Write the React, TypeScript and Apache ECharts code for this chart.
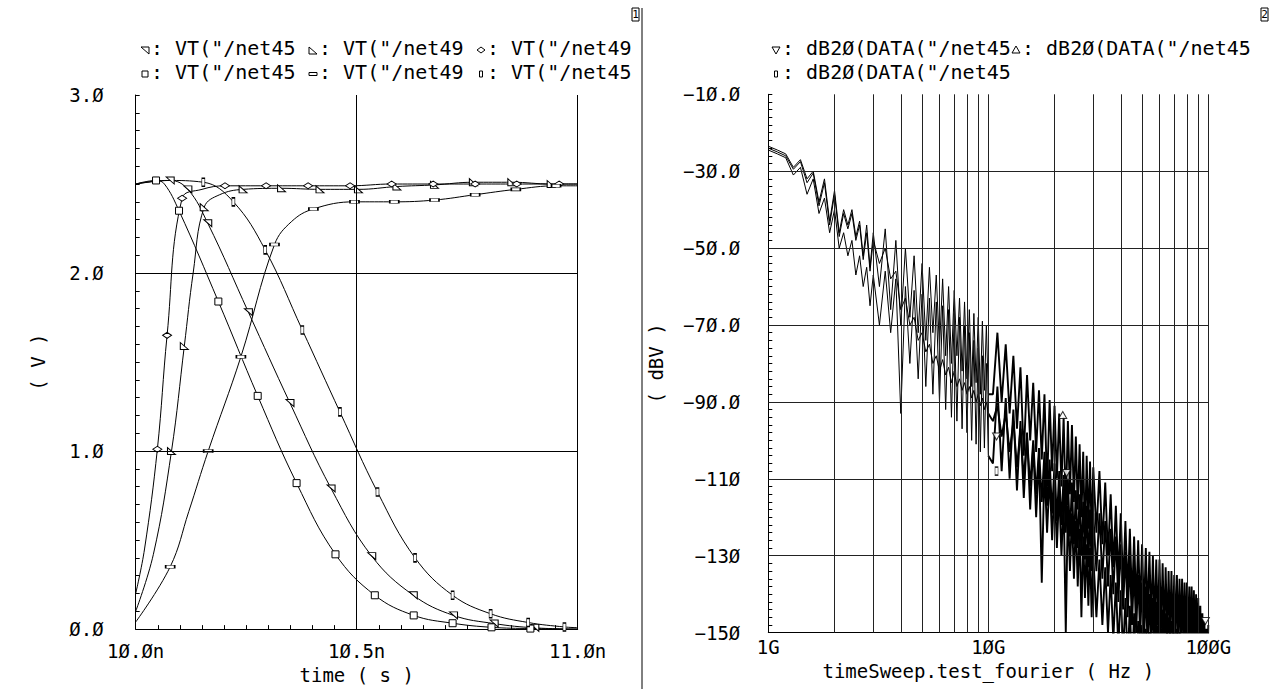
import React, { useEffect, useRef } from "react";
import * as echarts from "echarts";

// ---------------- Left plot (transient, V vs time in ns) ----------------
// "tri1" : VT("/net45  (falling, middle)
const tri1T = [10.0, 10.078, 10.118, 10.163, 10.255, 10.349, 10.442, 10.534, 10.628, 10.719, 10.811, 10.903, 11.0];
const tri1V = [2.50, 2.52, 2.47, 2.28, 1.78, 1.27, 0.79, 0.41, 0.19, 0.077, 0.031, 0.007, 0.0];
const tri1M = [0, 1, 1, 1, 1, 1, 1, 1, 1, 1, 1, 1, 0];
// "tri2" : VT("/net49  (rising, second)
const tri2T = [10.0, 10.04, 10.081, 10.11, 10.13, 10.155, 10.19, 10.243, 10.33, 10.417, 10.504, 10.591, 10.676, 10.764, 10.851, 10.94, 11.0];
const tri2V = [0.10, 0.42, 1.0, 1.59, 2.0, 2.37, 2.44, 2.47, 2.476, 2.47, 2.47, 2.486, 2.495, 2.51, 2.51, 2.50, 2.50];
const tri2M = [0, 0, 1, 1, 0, 1, 0, 1, 1, 1, 1, 1, 1, 1, 1, 1, 0];
// "diamond" : VT("/net49 (rising, first)
const diaT = [10.0, 10.02, 10.049, 10.071, 10.105, 10.15, 10.202, 10.295, 10.39, 10.485, 10.579, 10.673, 10.768, 10.862, 10.958, 11.0];
const diaV = [0.20, 0.45, 1.01, 1.65, 2.42, 2.47, 2.49, 2.49, 2.49, 2.49, 2.50, 2.50, 2.50, 2.50, 2.50, 2.50];
const diaM = [0, 0, 1, 1, 1, 0, 1, 1, 1, 1, 1, 1, 1, 1, 1, 0];
// "square" : VT("/net45 (falling, first)
const sqT = [10.0, 10.046, 10.065, 10.098, 10.187, 10.276, 10.364, 10.452, 10.541, 10.629, 10.717, 10.805, 10.893, 11.0];
const sqV = [2.50, 2.52, 2.50, 2.35, 1.84, 1.31, 0.82, 0.42, 0.19, 0.077, 0.033, 0.010, 0.003, 0.0];
const sqM = [0, 1, 0, 1, 1, 1, 1, 1, 1, 1, 1, 1, 1, 0];
// "flat" : VT("/net49 (rising, third)
const flatT = [10.0, 10.078, 10.12, 10.164, 10.238, 10.314, 10.353, 10.402, 10.495, 10.585, 10.676, 10.768, 10.86, 10.951, 11.0];
const flatV = [0.04, 0.35, 0.66, 1.0, 1.53, 2.16, 2.29, 2.36, 2.40, 2.40, 2.41, 2.44, 2.47, 2.49, 2.49];
const flatM = [0, 1, 0, 1, 1, 1, 0, 1, 1, 1, 1, 1, 1, 1, 0];
// "tall" : VT("/net45 (falling, last)
const tallT = [10.0, 10.07, 10.153, 10.221, 10.293, 10.377, 10.462, 10.547, 10.632, 10.717, 10.803, 10.888, 10.97, 11.0];
const tallV = [2.50, 2.52, 2.51, 2.40, 2.13, 1.68, 1.22, 0.77, 0.40, 0.19, 0.086, 0.037, 0.012, 0.008];
const tallM = [0, 0, 1, 1, 1, 1, 1, 1, 1, 1, 1, 1, 1, 0];

const leftYTicks = [0, 1, 2, 3];
const leftXTicks = [10.0, 10.5, 11.0];
const leftGridY = [1, 2];
const leftGridX = [10.5, 11.0];

// ---------------- Right plot (spectrum, dBV vs frequency in GHz) ----------------
const freqs = [
  1.0, 1.1, 1.2, 1.3, 1.4, 1.5, 1.6, 1.7, 1.8, 1.9, 2.0, 2.1, 2.2, 2.3, 2.4, 2.5, 2.6, 2.7, 2.8, 2.9, 3.0,
  3.2, 3.4, 3.6, 3.8, 4.0, 4.2, 4.4, 4.6, 4.8, 5.0, 5.2, 5.4, 5.6, 5.8, 6.0, 6.2, 6.4, 6.6, 6.8, 7.0,
  7.2, 7.4, 7.6, 7.8, 8.0, 8.2, 8.4, 8.6, 8.8, 9.0, 9.2, 9.4, 9.6, 9.8, 10.0,
  10.5, 11, 11.5, 12, 12.5, 13, 13.5, 14, 14.5, 15, 15.5, 16, 16.5, 17, 17.5, 18, 18.5, 19, 19.5, 20,
  20.5, 21, 21.5, 22, 22.5, 23, 23.5, 24, 24.5, 25, 25.5, 26, 26.5, 27, 27.5, 28, 28.5, 29, 29.5, 30,
  31, 32, 33, 34, 35, 36, 37, 38, 39, 40, 41, 42, 43, 44, 45, 46, 47, 48, 49, 50,
  51, 52, 53, 54, 55, 56, 57, 58, 59, 60, 61, 62, 63, 64, 65, 66, 67, 68, 69, 70,
  71, 72, 73, 74, 75, 76, 77, 78, 79, 80, 81, 82, 83, 84, 85, 86, 87, 88, 89, 90,
  91, 92, 93, 94, 95, 96, 97, 98, 99, 100,
];
// ▽ : dB20(DATA("/net45  (middle curve)
const specDown = [
  -24, -25, -26, -29.5, -27.5, -33, -30.5, -39, -33, -44, -36, -47, -41, -45, -41, -48, -44, -53, -46, -56, -48,
  -54, -50, -58, -56, -66, -63, -70, -68, -74, -72, -77, -75, -80, -78, -82, -79, -83, -81, -85, -82,
  -86, -84, -87, -85, -88, -86, -89, -87, -90, -88, -91, -89, -92, -90, -93,
  -95, -91, -99, -93, -103, -95, -107, -97, -110, -99, -112, -100, -114, -102, -116, -103, -117, -105, -119, -106,
  -121, -108, -122, -109, -124, -110, -125, -111, -127, -113, -128, -114, -130, -116, -131, -117, -133, -118, -134, -119,
  -134, -119, -136, -121, -138, -123, -140, -125, -142, -127, -144, -129, -146, -131, -148, -133, -150, -135, -151, -137,
  -153, -138, -154, -140, -155, -141, -156, -142, -157, -143, -158, -144, -159, -145, -160, -146, -161, -147, -162, -148,
  -163, -149, -163, -150, -164, -151, -164, -152, -165, -152, -165, -153, -166, -153, -166, -154, -167, -154, -167, -155,
  -168, -155, -168, -156, -169, -156, -169, -157, -170, -157,
];
// △ : dB20(DATA("/net45  (top band)
const specUp = [
  -23.5, -24.5, -25.5, -29, -27, -32, -30, -38, -32, -43, -35, -46, -40, -44, -40, -47, -43, -52, -44, -55, -46,
  -60, -45, -66, -48, -70, -50, -68, -52, -72, -54, -74, -55, -72, -57, -76, -58, -78, -60, -80, -61,
  -78, -63, -82, -64, -84, -66, -86, -67, -85, -68, -88, -69, -87, -70, -88,
  -88, -72, -90, -75, -93, -78, -97, -81, -104, -83, -100, -85, -103, -87, -105, -88, -112, -89.5, -108, -91,
  -110, -93, -112, -94, -118, -95, -114, -96, -116, -99, -118, -101, -120, -103, -126, -104, -123, -105.5, -125, -107,
  -124, -108, -127, -111, -130, -114, -133, -117, -136, -119, -138, -121, -140, -123, -142, -125, -143, -126, -144, -127,
  -145, -128, -146, -129, -147, -130, -148, -131, -148, -131, -149, -132, -150, -133, -151, -134, -151, -134, -152, -135,
  -152, -135, -153, -136, -153, -136, -154, -137, -154, -137, -155, -138, -155, -138, -156, -139, -157, -140, -158, -141,
  -159, -143, -160, -145, -161, -147, -162, -149, -163, -148,
];
// ▯ : dB20(DATA("/net45  (bottom curve)
const specBar = [
  -24.5, -25.5, -26.5, -31, -29, -36, -32, -41, -37, -46, -40, -50, -46, -52, -48, -57, -52, -60, -55, -65, -57,
  -70, -56, -72, -58, -93, -60, -80, -61, -84, -62, -86, -63, -88, -64, -90, -65, -92, -66, -94, -67,
  -95, -68, -97, -70, -98, -72, -100, -74, -101, -76, -103, -78, -102, -80, -104,
  -106, -86, -108, -89, -110, -92, -113, -95, -115, -98, -118, -101, -120, -104, -137, -107, -124, -109, -126, -111,
  -128, -113, -130, -115, -150, -117, -134, -119, -136, -121, -138, -123, -146, -125, -141, -127, -143, -128, -146, -130,
  -146, -131, -148, -133, -150, -135, -152, -137, -154, -139, -156, -141, -158, -143, -160, -145, -161, -147, -162, -148,
  -163, -149, -164, -150, -165, -151, -166, -152, -166, -152, -167, -153, -167, -153, -168, -154, -168, -154, -169, -155,
  -169, -155, -170, -156, -170, -156, -170, -157, -171, -157, -171, -158, -171, -158, -172, -159, -172, -159, -172, -160,
  -173, -160, -173, -160, -173, -161, -174, -161, -174, -161,
];
const downMarkF = [10.9, 22.7, 97];
const downMarkV = [-99, -108.5, -147];
const upMarkF = [21.8];
const upMarkV = [-93.4];
const barMarkF = [10.9];
const barMarkV = [-108];

const rightYTicks = [-150, -130, -110, -90, -70, -50, -30, -10];
const rightGridY = [-130, -110, -90, -70, -50, -30];
const rightGridX = [2, 3, 4, 5, 6, 7, 8, 9, 10, 20, 30, 40, 50, 60, 70, 80, 90, 100];
const denseFrom = 10; // GHz: above this the traces are drawn a little heavier (dense FFT bins)

const leftLegend = [
  { sym: "tri1", label: ': VT("/net45' },
  { sym: "tri2", label: ': VT("/net49' },
  { sym: "diamond", label: ': VT("/net49' },
  { sym: "square", label: ': VT("/net45' },
  { sym: "flat", label: ': VT("/net49' },
  { sym: "tall", label: ': VT("/net45' },
];
const rightLegend = [
  { sym: "down", label: ': dB2Ø(DATA("/net45' },
  { sym: "up", label: ': dB2Ø(DATA("/net45' },
  { sym: "tall", label: ': dB2Ø(DATA("/net45' },
];

const FONT = "DejaVu Sans Mono";
const FS = 19; // axis text
const LFS = 20; // legend text
const slashZero = (s: string) => s.replace(/0/g, "Ø");

const SYM: Record<string, { symbol: string; size: number[] }> = {
  tri1: { symbol: "path://M0,0L10,0L10,9Z", size: [8, 7] },
  tri2: { symbol: "path://M0,0L0,9L10,9Z", size: [8, 7] },
  diamond: { symbol: "diamond", size: [9, 6] },
  square: { symbol: "rect", size: [7, 7] },
  flat: { symbol: "rect", size: [9, 3] },
  tall: { symbol: "rect", size: [3, 8] },
  down: { symbol: "path://M0,0L10,0L5,9Z", size: [8, 7] },
  up: { symbol: "triangle", size: [8, 7] },
};

function curveData(t: number[], v: number[], m: number[]) {
  return t.map((x, i) => (m[i] ? [x, v[i]] : { value: [x, v[i]], symbol: "none" }));
}

function leftSeries(name: string, sym: string, t: number[], v: number[], m: number[], extra: any = {}) {
  return {
    name,
    type: "line",
    xAxisIndex: 0,
    yAxisIndex: 0,
    data: curveData(t, v, m),
    smooth: 0.4,
    showSymbol: true,
    showAllSymbol: true,
    symbol: SYM[sym].symbol,
    symbolSize: SYM[sym].size,
    itemStyle: { color: "#fff", borderColor: "#000", borderWidth: 1 },
    lineStyle: { color: "#000", width: 1 },
    emphasis: { disabled: true },
    z: 3,
    ...extra,
  };
}

function rightLine(name: string, vals: number[], part: "low" | "high") {
  const pts = freqs
    .map((f, i) => [f, vals[i]])
    .filter((p) => (part === "low" ? p[0] <= denseFrom : p[0] >= denseFrom));
  return {
    name,
    type: "line",
    xAxisIndex: 1,
    yAxisIndex: 1,
    data: pts,
    showSymbol: false,
    symbol: "none",
    lineStyle: { color: "#000", width: part === "low" ? 1 : 1.9 },
    emphasis: { disabled: true },
    clip: true,
    z: 3,
  };
}

function rightMarks(sym: string, f: number[], v: number[]) {
  return {
    type: "scatter",
    xAxisIndex: 1,
    yAxisIndex: 1,
    data: f.map((x, i) => [x, v[i]]),
    symbol: SYM[sym].symbol,
    symbolSize: SYM[sym].size,
    itemStyle: { color: "#fff", borderColor: "#000", borderWidth: 1 },
    emphasis: { disabled: true },
    z: 4,
  };
}

function legendSym(kind: string, cx: number, cy: number) {
  const st = { fill: "#fff", stroke: "#000", lineWidth: 1 };
  switch (kind) {
    case "tri1":
      return { type: "polygon", shape: { points: [[cx - 4, cy - 3], [cx + 4, cy - 3], [cx + 4, cy + 4]] }, style: st };
    case "tri2":
      return { type: "polygon", shape: { points: [[cx - 4, cy - 3], [cx - 4, cy + 4], [cx + 4, cy + 4]] }, style: st };
    case "diamond":
      return { type: "polygon", shape: { points: [[cx, cy - 3], [cx + 4, cy], [cx, cy + 3], [cx - 4, cy]] }, style: st };
    case "square":
      return { type: "rect", shape: { x: cx - 3, y: cy - 3, width: 6, height: 6 }, style: st };
    case "flat":
      return { type: "rect", shape: { x: cx - 4, y: cy - 1.5, width: 8, height: 3 }, style: st };
    case "tall":
      return { type: "rect", shape: { x: cx - 1.5, y: cy - 3, width: 3, height: 6 }, style: st };
    case "down":
      return { type: "polygon", shape: { points: [[cx - 4, cy - 3], [cx + 4, cy - 3], [cx, cy + 4]] }, style: st };
    default:
      return { type: "polygon", shape: { points: [[cx, cy - 4], [cx + 4, cy + 3], [cx - 4, cy + 3]] }, style: st };
  }
}

function legendItem(item: { sym: string; label: string }, x: number, y: number) {
  return [
    legendSym(item.sym, x + 6, y + 2),
    {
      type: "text",
      x: x + 12,
      y,
      style: { text: item.label, font: `${LFS}px "${FONT}"`, fill: "#000", textVerticalAlign: "middle", textAlign: "left" },
    },
  ];
}

function buildOption() {
  const axisCommon = {
    axisLine: { show: true, lineStyle: { color: "#000", width: 1 } },
    splitLine: { show: false },
    axisLabel: { color: "#000", fontFamily: FONT, fontSize: FS },
    nameTextStyle: { color: "#000", fontFamily: FONT, fontSize: FS },
  };
  const graphics: any[] = [];
  leftLegend.forEach((it, i) => {
    const col = i % 3;
    const row = Math.floor(i / 3);
    graphics.push(...legendItem(it, 139 + col * 168, 48 + row * 24));
  });
  graphics.push(...legendItem(rightLegend[0], 770, 48));
  graphics.push(...legendItem(rightLegend[1], 1010, 48));
  graphics.push(...legendItem(rightLegend[2], 770, 72));
  // panel frame marks
  graphics.push({ type: "line", shape: { x1: 642, y1: 8, x2: 642, y2: 689 }, style: { stroke: "#000", lineWidth: 1 } });
  graphics.push({ type: "rect", shape: { x: 632, y: 8, width: 7, height: 13 }, style: { fill: "#fff", stroke: "#000", lineWidth: 1 } });
  graphics.push({ type: "text", x: 635.5, y: 14.5, style: { text: "1", font: `11px "${FONT}"`, fill: "#000", textAlign: "center", textVerticalAlign: "middle" } });
  graphics.push({ type: "rect", shape: { x: 1261, y: 8, width: 7, height: 13 }, style: { fill: "#fff", stroke: "#000", lineWidth: 1 } });
  graphics.push({ type: "text", x: 1264.5, y: 14.5, style: { text: "2", font: `11px "${FONT}"`, fill: "#000", textAlign: "center", textVerticalAlign: "middle" } });

  const gridLineStyle = { color: "#000", width: 1, type: "solid" };

  const series: any[] = [
    leftSeries("tri1", "tri1", tri1T, tri1V, tri1M, {
      markLine: {
        silent: true,
        symbol: ["none", "none"],
        label: { show: false },
        lineStyle: gridLineStyle,
        data: [...leftGridY.map((y) => ({ yAxis: y })), ...leftGridX.map((x) => ({ xAxis: x }))],
      },
    }),
    leftSeries("tri2", "tri2", tri2T, tri2V, tri2M),
    leftSeries("diamond", "diamond", diaT, diaV, diaM),
    leftSeries("square", "square", sqT, sqV, sqM),
    leftSeries("flat", "flat", flatT, flatV, flatM),
    leftSeries("tall", "tall", tallT, tallV, tallM),
    {
      ...rightLine("down", specDown, "low"),
      markLine: {
        silent: true,
        symbol: ["none", "none"],
        label: { show: false },
        lineStyle: { color: "#222", width: 1, type: "solid" },
        data: [...rightGridY.map((y) => ({ yAxis: y })), ...rightGridX.map((x) => ({ xAxis: x }))],
      },
    },
    rightLine("down", specDown, "high"),
    rightLine("up", specUp, "low"),
    rightLine("up", specUp, "high"),
    rightLine("bar", specBar, "low"),
    rightLine("bar", specBar, "high"),
    rightMarks("down", downMarkF, downMarkV),
    rightMarks("up", upMarkF, upMarkV),
    rightMarks("tall", barMarkF, barMarkV),
  ];

  return {
    animation: false,
    backgroundColor: "#fff",
    textStyle: { fontFamily: FONT },
    grid: [
      { left: 135.7, top: 95, width: 442, height: 544 },
      { left: 768.3, top: 94.3, width: 440, height: 538.3 },
    ],
    xAxis: [
      {
        ...axisCommon,
        gridIndex: 0,
        type: "value",
        min: leftXTicks[0],
        max: leftXTicks[2],
        interval: 0.5,
        name: "time ( s )",
        nameLocation: "middle",
        nameGap: 29,
        axisTick: { show: true, inside: true, length: 4, lineStyle: { color: "#000" } },
        minorTick: { show: true, splitNumber: 10, length: 4, lineStyle: { color: "#000" } },
        axisLabel: {
          ...axisCommon.axisLabel,
          margin: 12,
          formatter: (v: number) => slashZero(v.toFixed(1) + "n"),
        },
      },
      {
        ...axisCommon,
        gridIndex: 1,
        type: "log",
        logBase: 10,
        min: 1,
        max: 100,
        name: "timeSweep.test_fourier ( Hz )",
        nameLocation: "middle",
        nameGap: 24,
        axisTick: { show: false },
        axisLabel: {
          ...axisCommon.axisLabel,
          margin: 5,
          formatter: (v: number) => slashZero(String(Math.round(v)) + "G"),
        },
      },
    ],
    yAxis: [
      {
        ...axisCommon,
        gridIndex: 0,
        type: "value",
        min: leftYTicks[0],
        max: leftYTicks[3],
        interval: 1,
        name: "( V )",
        nameLocation: "middle",
        nameRotate: 90,
        nameGap: 88,
        axisTick: { show: true, inside: true, length: 4, lineStyle: { color: "#000" } },
        minorTick: { show: true, splitNumber: 10, length: 4, lineStyle: { color: "#000" } },
        axisLabel: { ...axisCommon.axisLabel, margin: 32, formatter: (v: number) => slashZero(v.toFixed(1)) },
      },
      {
        ...axisCommon,
        gridIndex: 1,
        type: "value",
        min: rightYTicks[0],
        max: rightYTicks[rightYTicks.length - 1],
        interval: 20,
        name: "( dBV )",
        nameLocation: "middle",
        nameRotate: 90,
        nameGap: 103,
        axisTick: { show: true, inside: true, length: 4, lineStyle: { color: "#000" } },
        minorTick: { show: true, splitNumber: 10, length: 4, lineStyle: { color: "#000" } },
        axisLabel: {
          ...axisCommon.axisLabel,
          margin: 28,
          formatter: (v: number) => "−" + slashZero(Math.abs(v) >= 100 ? String(Math.abs(v)) : Math.abs(v).toFixed(1)),
        },
      },
    ],
    graphic: { elements: graphics },
    series,
  };
}

export default function App() {
  const ref = useRef<HTMLDivElement>(null);
  useEffect(() => {
    const chart = echarts.init(ref.current!, null, { renderer: "svg" });
    chart.setOption(buildOption() as any);
    return () => chart.dispose();
  }, []);
  return (
    <div
      ref={ref}
      style={{ position: "absolute", left: 0, top: 0, width: 1274, height: 689, background: "#fff" }}
    />
  );
}
